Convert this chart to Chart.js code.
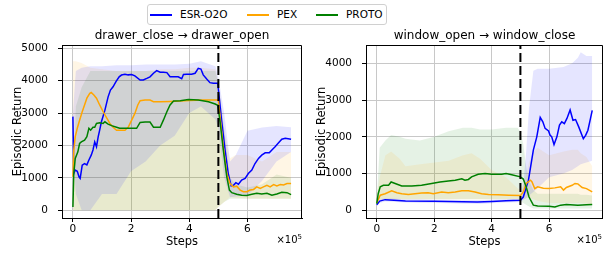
<!DOCTYPE html>
<html>
<head>
<meta charset="utf-8">
<script src="https://cdn.jsdelivr.net/npm/chart.js@4.4.1/dist/chart.umd.min.js"></script>
<style>
    body { margin: 0; width: 603px; height: 253px; background: #fff; position: relative; overflow: hidden; font-family: "DejaVu Sans", sans-serif; }
    canvas { position: absolute; top: 0; }
    #legend { position: absolute; left: 147px; top: 4px; width: 238px; height: 19px; border: 1px solid #d0d0d0; border-radius: 3px; background: #fff; font-size: 10.5px; z-index: 2; }
    .item { position: absolute; top: 0; height: 19px; line-height: 19px; color: #000; }
    .swatch { position: absolute; top: 9px; width: 22px; height: 1.5px; }
    .offset { position: absolute; top: 233px; font-size: 10px; color: #000; }
    .offset sup { font-size: 7px; }
</style>
</head>
<body>
<div id="legend"></div>
<canvas id="left" width="304" height="253" style="left:0"></canvas>
<canvas id="right" width="299" height="253" style="left:304px"></canvas>
<span class="offset" style="right:301px">×10<sup>5</sup></span>
<span class="offset" style="right:1px">×10<sup>5</sup></span>
<script>
// names / colours
const seriesNames = ["ESR-O2O", "PEX", "PROTO"];
const seriesColors = ["#0000ff", "#ffa500", "#008000"];
const bandColors = ["rgba(0,0,255,0.1)", "rgba(255,165,0,0.1)", "rgba(0,128,0,0.1)"];
const xTicks = [0, 2, 4, 6];
const yTicksLeft = [0, 1000, 2000, 3000, 4000, 5000];
const yTicksRight = [0, 1000, 2000, 3000, 4000];
const switchStep = 5;

// drawer_close -> drawer_open  (steps in 1e5, return)
const esrLeft = [[0,2890],[0.03,1130],[0.08,1240],[0.15,1200],[0.21,1030],[0.25,980],[0.32,1390],[0.4,1440],[0.48,1400],[0.55,1550],[0.63,1700],[0.69,1860],[0.75,2110],[0.81,1960],[0.87,2270],[0.92,2470],[0.98,2730],[1.1,3090],[1.21,3500],[1.29,3710],[1.38,3810],[1.48,3970],[1.59,4120],[1.67,4175],[1.79,4200],[1.9,4180],[2.02,4190],[2.13,4150],[2.31,4020],[2.42,4020],[2.54,4070],[2.65,4120],[2.77,4230],[2.88,4310],[3.0,4260],[3.11,4260],[3.23,4250],[3.34,4120],[3.46,4120],[3.62,4120],[3.74,4060],[3.8,4190],[3.91,4200],[4.08,4200],[4.2,4230],[4.31,4380],[4.4,4360],[4.48,4180],[4.6,4050],[4.71,3940],[4.83,3920],[4.98,3920],[5.02,3560],[5.11,2780],[5.23,1860],[5.34,1130],[5.44,750],[5.52,770],[5.6,850],[5.69,800],[5.8,930],[5.92,980],[6.03,1130],[6.15,1240],[6.26,1440],[6.38,1600],[6.49,1700],[6.61,1770],[6.75,1770],[6.84,1860],[6.95,1960],[7.07,2080],[7.18,2190],[7.3,2220],[7.5,2190]];
const pexLeft = [[0,1030],[0.03,1860],[0.08,2270],[0.15,2530],[0.23,2780],[0.32,3040],[0.4,3250],[0.48,3460],[0.58,3610],[0.63,3640],[0.72,3560],[0.81,3460],[0.92,3250],[1.04,3040],[1.15,2870],[1.27,2680],[1.38,2560],[1.5,2470],[1.61,2470],[1.79,2470],[1.9,2560],[2.02,2780],[2.13,2990],[2.23,3250],[2.31,3380],[2.48,3400],[2.65,3400],[2.77,3350],[3.0,3350],[3.34,3360],[3.69,3370],[4.0,3390],[4.5,3400],[5.0,3400],[5.06,2890],[5.17,1960],[5.29,1130],[5.4,820],[5.52,720],[5.63,740],[5.75,620],[5.86,570],[5.98,570],[6.09,620],[6.21,640],[6.32,720],[6.44,670],[6.55,720],[6.67,770],[6.78,720],[6.9,790],[7.01,750],[7.13,790],[7.24,780],[7.36,820],[7.5,820]];
const protoLeft = [[0,100],[0.03,1130],[0.08,1600],[0.17,1800],[0.23,2060],[0.29,2110],[0.4,2160],[0.48,2270],[0.55,2530],[0.61,2470],[0.69,2560],[0.75,2560],[0.81,2680],[0.92,2700],[1.04,2680],[1.1,2730],[1.21,2660],[1.33,2610],[1.5,2560],[1.61,2530],[1.85,2530],[2.19,2530],[2.31,2710],[2.48,2720],[2.65,2720],[2.77,2560],[3.0,2560],[3.11,2780],[3.23,3040],[3.34,3250],[3.46,3370],[3.69,3380],[3.97,3420],[4.31,3400],[4.66,3350],[4.89,3280],[4.98,3240],[5.06,2730],[5.17,1860],[5.29,1030],[5.38,620],[5.46,540],[5.63,490],[5.8,460],[5.98,455],[6.15,490],[6.32,520],[6.49,500],[6.67,520],[6.84,460],[7.01,500],[7.18,550],[7.36,540],[7.5,480]];

// shaded spread, left panel
const bandXLeft = [0,0.1,0.3,0.6,1.0,1.5,2.0,2.5,3.0,3.5,4.0,4.4,4.9,5.0,5.2,5.4,5.6,6.0,6.5,7.0,7.5];
const esrLeftHi = [3000,4300,4400,4450,4450,4480,4480,4500,4500,4500,4520,4600,4450,4100,3000,1500,1700,2450,2550,2600,2560];
const esrLeftLo = [2000,500,0,0,500,500,1200,1500,2000,2300,3000,3200,2800,2500,1000,400,420,450,900,1500,1800];
const pexLeftHi = [4600,4600,4550,4400,4350,4300,4300,4300,4350,4350,4400,4400,4350,4000,2500,1600,1700,1700,1500,1800,1800];
const pexLeftLo = [0,0,0,0,0,0,0,0,0,0,0,0,0,100,250,400,380,350,350,350,350];
const protoLeftHi = [500,3200,3800,4300,4300,4300,4300,4300,4300,4300,4300,4300,4300,3900,2500,1000,800,700,800,1100,1000];
const protoLeftLo = [0,0,0,0,0,0,0,0,0,0,0,0,0,100,250,350,350,350,350,350,350];

// window_open -> window_close
const esrRight = [[0,150],[0.1,250],[0.29,290],[0.6,270],[1.0,250],[2.0,245],[3.0,235],[3.5,225],[4.0,240],[4.5,260],[5.0,270],[5.1,360],[5.28,820],[5.45,1640],[5.57,2000],[5.69,2530],[5.78,2410],[5.86,2230],[5.98,2160],[6.03,2050],[6.09,2000],[6.17,1790],[6.27,2000],[6.36,2320],[6.44,2410],[6.53,2360],[6.62,2500],[6.73,2730],[6.83,2450],[6.92,2470],[7.03,2270],[7.19,1950],[7.27,2040],[7.35,2180],[7.44,2500],[7.5,2720]];
const pexRight = [[0,200],[0.12,410],[0.29,450],[0.52,530],[0.7,480],[0.87,450],[1.1,430],[1.33,450],[1.56,470],[1.79,480],[1.97,450],[2.26,500],[2.49,480],[2.73,500],[2.96,530],[3.19,530],[3.42,500],[3.65,450],[3.89,430],[4.23,420],[4.6,410],[5.0,400],[5.1,500],[5.2,730],[5.35,820],[5.4,780],[5.5,590],[5.6,640],[5.8,600],[6.0,590],[6.2,610],[6.4,640],[6.5,550],[6.6,620],[6.8,680],[6.9,730],[7.0,720],[7.15,620],[7.3,590],[7.5,500]];
const protoRight = [[0,180],[0.05,450],[0.12,640],[0.23,680],[0.41,680],[0.5,770],[0.64,730],[0.87,660],[1.22,660],[1.56,680],[1.91,730],[2.2,770],[2.49,800],[2.73,820],[2.96,860],[3.07,820],[3.19,840],[3.3,910],[3.53,980],[3.77,1000],[4.0,980],[4.35,980],[4.5,1000],[4.7,970],[5.0,910],[5.1,850],[5.2,640],[5.3,360],[5.45,140],[5.6,120],[6.0,110],[6.2,90],[6.4,140],[6.6,160],[7.0,140],[7.3,150],[7.5,160]];

// shaded spread, right panel
const bandXRight = [0,0.1,0.3,0.5,0.8,1.0,1.5,2.0,2.5,3.0,3.3,3.6,4.0,4.5,4.9,5.0,5.1,5.2,5.3,5.45,5.6,6.0,6.5,6.8,7.0,7.1,7.3,7.5];
const esrRightHi = [200,300,320,320,310,300,300,290,290,280,280,280,290,300,310,320,700,1600,2800,3800,3850,3850,3900,4000,4150,4300,4200,4200];
const esrRightLo = [120,200,240,230,220,210,200,200,190,180,180,170,190,210,220,230,280,330,400,500,600,900,1000,1100,1200,1250,1300,1350];
const pexRightHi = [400,900,1500,1600,1400,1200,1250,1300,1350,1500,1550,1400,1100,900,600,550,700,1000,1300,1600,1700,1500,1600,1650,1650,1550,1450,1200];
const pexRightLo = [250,280,300,300,300,300,300,300,300,300,300,300,300,300,300,300,300,320,350,300,250,200,200,200,200,200,180,150];
const protoRightHi = [300,1700,1900,2050,2000,1950,1900,2000,2150,2250,2250,2200,2200,2250,2250,2150,1800,1200,800,550,450,450,450,450,450,420,420,400];
const protoRightLo = [100,300,300,300,300,300,300,300,300,300,300,300,300,300,300,250,200,150,100,50,50,50,50,50,50,50,50,50];

// legend
let legend = document.getElementById("legend");
let lineLefts = [2, 99, 168];
seriesNames.forEach(function(name, i) {
    let sw = document.createElement("div");
    sw.className = "swatch";
    sw.style.left = lineLefts[i] + "px";
    sw.style.background = seriesColors[i];
    legend.appendChild(sw);
    let txt = document.createElement("div");
    txt.className = "item";
    txt.style.left = (lineLefts[i] + 30) + "px";
    txt.textContent = name;
    legend.appendChild(txt);
});

function toPoints(pairs) {
    return pairs.map(function(p) { return {x: p[0], y: p[1]}; });
}
function zipBand(xs, ys) {
    return xs.map(function(x, i) { return {x: x, y: ys[i]}; });
}

// top + right spines, chart.js only draws left/bottom
const boxPlugin = {
    id: "box",
    afterDraw: function(chart) {
        let ca = chart.chartArea;
        let ctx = chart.ctx;
        ctx.save();
        ctx.strokeStyle = "#000";
        ctx.lineWidth = 1;
        ctx.beginPath();
        ctx.moveTo(ca.left, ca.top + 0.5);
        ctx.lineTo(ca.right - 0.5, ca.top + 0.5);
        ctx.lineTo(ca.right - 0.5, ca.bottom);
        ctx.stroke();
        ctx.restore();
    }
};

function makeChart(id, title, lines, bandX, bands, yMin, yMax, yTicks) {
    let datasets = [];
    datasets.push({
        data: [{x: switchStep, y: yMin}, {x: switchStep, y: yMax}],
        borderColor: "#000", borderWidth: 2, borderDash: [9, 4], pointRadius: 0, order: 0
    });
    // green on top, then orange, then blue
    for (let i = 0; i < lines.length; i++) {
        datasets.push({
            label: seriesNames[i],
            data: toPoints(lines[i]),
            borderColor: seriesColors[i], borderWidth: 1.5, pointRadius: 0, tension: 0,
            order: 3 - i
        });
    }
    for (let i = 0; i < bands.length; i++) {
        datasets.push({
            data: zipBand(bandX, bands[i][0]),
            borderWidth: 0, pointRadius: 0, fill: false, order: 10 + i
        });
        datasets.push({
            data: zipBand(bandX, bands[i][1]),
            borderWidth: 0, pointRadius: 0, fill: "-1", backgroundColor: bandColors[i], order: 10 + i
        });
    }

    return new Chart(document.getElementById(id), {
        type: "line",
        data: { datasets: datasets },
        plugins: [boxPlugin],
        options: {
            responsive: false,
            animation: false,
            events: [],
            layout: { padding: { left: 0, right: id === "left" ? 2 : 0, top: 0, bottom: 0 } },
            plugins: {
                legend: { display: false },
                tooltip: { enabled: false },
                title: {
                    display: true, text: title, color: "#000", fullSize: false,
                    font: { family: "DejaVu Sans", size: 12, weight: "normal" },
                    padding: { top: 28.8, bottom: 1.8 }
                }
            },
            scales: {
                x: {
                    type: "linear", min: -0.375, max: 7.875,
                    afterBuildTicks: function(scale) { scale.ticks = xTicks.map(function(v) { return {value: v}; }); },
                    afterFit: function(scale) { scale.height = 35; },
                    grid: { color: "#c8c8c8", lineWidth: 1, tickLength: 4, tickColor: "#000" },
                    border: { color: "#000", width: 1 },
                    ticks: { color: "#000", padding: 1, maxRotation: 0, font: { family: "DejaVu Sans", size: 10.5 },
                             callback: function(v) { return String(v); } },
                    title: { display: true, text: "Steps", color: "#000", padding: { top: 0, bottom: 4.1 },
                             font: { family: "DejaVu Sans", size: 11.5 } }
                },
                y: {
                    min: yMin, max: yMax,
                    afterBuildTicks: function(scale) { scale.ticks = yTicks.map(function(v) { return {value: v}; }); },
                    afterFit: function(scale) { scale.width = 62; },
                    grid: { color: "#c8c8c8", lineWidth: 1, tickLength: 4, tickColor: "#000" },
                    border: { color: "#000", width: 1 },
                    ticks: { color: "#000", padding: 10, font: { family: "DejaVu Sans", size: 10.5 },
                             callback: function(v) { return String(v); } },
                    title: { display: true, text: "Episodic Return", color: "#000", padding: { top: 11.1, bottom: 0 },
                             font: { family: "DejaVu Sans", size: 11.5 } }
                }
            }
        }
    });
}

makeChart("left", "drawer_close \u2192 drawer_open",
    [esrLeft, pexLeft, protoLeft], bandXLeft,
    [[esrLeftHi, esrLeftLo], [pexLeftHi, pexLeftLo], [protoLeftHi, protoLeftLo]],
    -243, 5103, yTicksLeft);

makeChart("right", "window_open \u2192 window_close",
    [esrRight, pexRight, protoRight], bandXRight,
    [[esrRightHi, esrRightLo], [pexRightHi, pexRightLo], [protoRightHi, protoRightLo]],
    -210, 4500, yTicksRight);
</script>
</body>
</html>
